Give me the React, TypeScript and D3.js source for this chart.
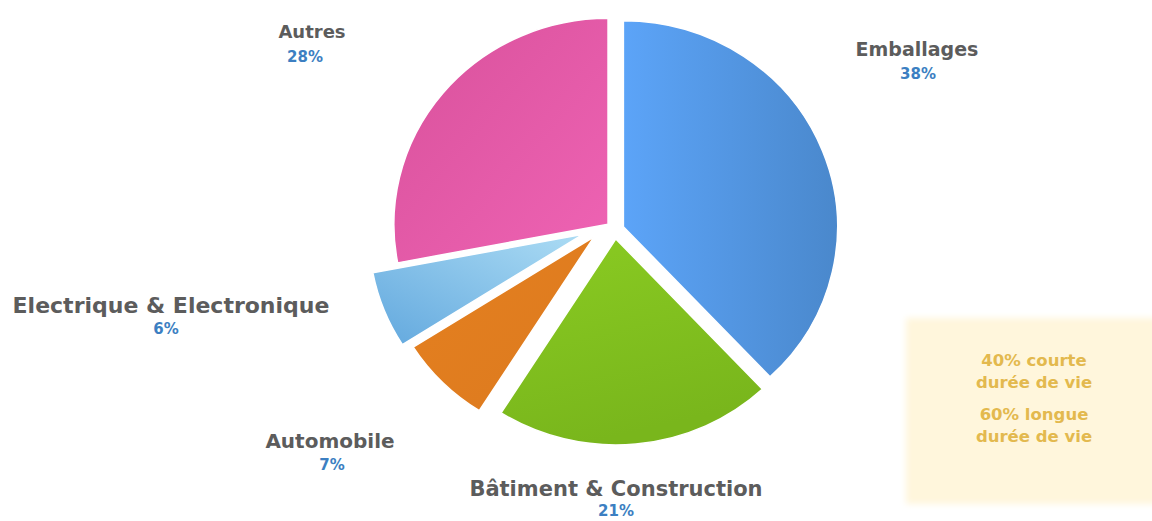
import React from 'react';
import * as d3 from 'd3';

const categories = ['Emballages', 'Bâtiment & Construction', 'Automobile', 'Electrique & Electronique', 'Autres'];
const values = [38, 21, 7, 6, 28];
const percentLabels = ['38%', '21%', '7%', '6%', '28%'];
const noteLines = ['40% courte', 'durée de vie', '60% longue', 'durée de vie'];

// styling / layout (not data)
const explode = [9, 9, 22, 32, 9];
const explodeTurn = [0, 0, 27, 14, 0]; // degrees added to the slice's mid angle for the explode direction
const gradFrom = ['#5ca4f8', '#8acb22', '#e5801f', '#62a8de', '#d8519b'];
const gradTo = ['#4a88cc', '#79b61c', '#dc7a1f', '#acdcf4', '#ef63b4'];
const gradDir = [
  { x1: 0, y1: 0.5, x2: 1, y2: 0.5 },
  { x1: 0, y1: 0, x2: 0.3, y2: 1 },
  { x1: 0, y1: 0, x2: 1, y2: 1 },
  { x1: 0, y1: 1, x2: 1, y2: 0 },
  { x1: 0, y1: 0, x2: 1, y2: 1 },
];
const labelPos = [
  { x: 917, y: 56, px: 918, py: 79, fs: 19 },
  { x: 616, y: 496, px: 616, py: 516, fs: 21 },
  { x: 330, y: 448, px: 332, py: 470, fs: 20 },
  { x: 171, y: 313, px: 166, py: 334, fs: 22 },
  { x: 312, y: 38, px: 305, py: 62, fs: 18 },
];

const W = 1152;
const H = 521;
const CX = 615;
const CY = 230;
const R = 206;
const SX = 1.04;

export default function App() {
  const pie = d3.pie<number>().sort(null).value((d) => d).startAngle(0).endAngle(2 * Math.PI);
  const arcs = pie(values);
  const arc = d3.arc<d3.PieArcDatum<number>>().innerRadius(0).outerRadius(R);

  return (
    <svg width={W} height={H} style={{ position: 'absolute', left: 0, top: 0, background: '#fff' }}>
      <defs>
        {arcs.map((a, i) => (
          <linearGradient key={i} id={`g${i}`} {...gradDir[i]}>
            <stop offset="0%" stopColor={gradFrom[i]} />
            <stop offset="100%" stopColor={gradTo[i]} />
          </linearGradient>
        ))}
        <filter id="soft" x="-5%" y="-5%" width="110%" height="110%">
          <feGaussianBlur stdDeviation="3" />
        </filter>
      </defs>
      <rect x={0} y={0} width={W} height={H} fill="#ffffff" />

      <g transform={`translate(${CX},${CY}) scale(${SX},1)`}>
        {arcs.map((a, i) => {
          const mid = (a.startAngle + a.endAngle) / 2 + (explodeTurn[i] * Math.PI) / 180;
          const dx = (Math.sin(mid) * explode[i]) / SX;
          const dy = -Math.cos(mid) * explode[i];
          return (
            <path
              key={i}
              d={arc(a) || ''}
              transform={`translate(${dx},${dy})`}
              fill={`url(#g${i})`}
              stroke="#ffffff"
              strokeWidth={1.5}
              strokeLinejoin="round"
            />
          );
        })}
      </g>

      {categories.map((c, i) => (
        <g key={c} fontFamily="DejaVu Sans, Verdana, sans-serif" fontWeight="bold" textAnchor="middle">
          <text x={labelPos[i].x} y={labelPos[i].y} fontSize={labelPos[i].fs} fill="#5c5c5c">
            {c}
          </text>
          <text x={labelPos[i].px} y={labelPos[i].py} fontSize={15} fill="#3c7fc2">
            {percentLabels[i]}
          </text>
        </g>
      ))}

      <rect x={906} y={318} width={260} height={186} fill="#fff6dc" filter="url(#soft)" />
      <g fontFamily="DejaVu Sans, Verdana, sans-serif" fontWeight="bold" textAnchor="middle" fill="#e3b94e" fontSize={16.5}>
        {noteLines.map((t, i) => (
          <text key={i} x={1034} y={[366, 388, 420, 442][i]}>
            {t}
          </text>
        ))}
      </g>
    </svg>
  );
}
